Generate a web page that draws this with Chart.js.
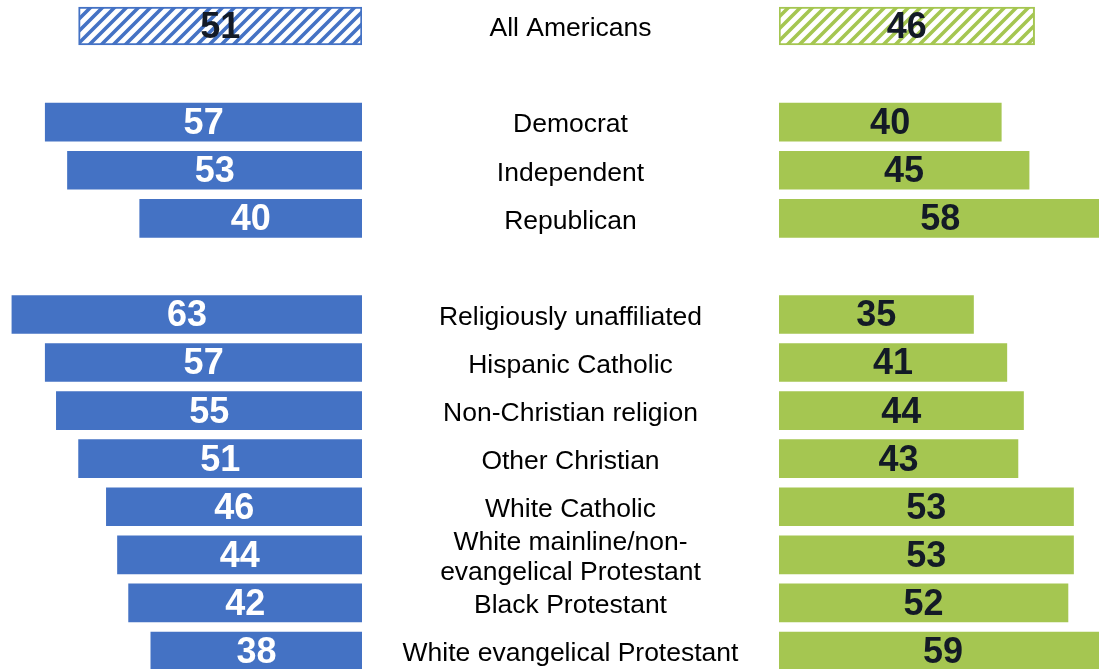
<!DOCTYPE html>
<html>
<head>
<meta charset="utf-8">
<script src="https://cdn.jsdelivr.net/npm/chart.js@4"></script>
<style>
  html, body { margin: 0; padding: 0; background: #fff; overflow: hidden; width: 1099px; height: 669px; }
  #wrapL { position: absolute; left: 0; top: 2px; width: 362px; height: 673px; }
  #wrapR { position: absolute; left: 362px; top: 2px; width: 737px; height: 673px; }
</style>
</head>
<body>
<div id="wrapL"><canvas id="left"></canvas></div>
<div id="wrapR"><canvas id="right"></canvas></div>
<script>
const categories = [
  'All Americans', '',
  'Democrat', 'Independent', 'Republican', '',
  'Religiously unaffiliated', 'Hispanic Catholic', 'Non-Christian religion',
  'Other Christian', 'White Catholic',
  ['White mainline/non-', 'evangelical Protestant'],
  'Black Protestant', 'White evangelical Protestant'
];
const leftValues  = [51, null, 57, 53, 40, null, 63, 57, 55, 51, 46, 44, 42, 38];
const rightValues = [46, null, 40, 45, 58, null, 35, 41, 44, 43, 53, 53, 52, 59];

const BLUE = '#4472C4';
const GREEN = '#A5C651';
const DARK = '#131a26';
const PX_PER_UNIT = 5.557;

function hatch(color) {
  const P = 12;
  const c = document.createElement('canvas');
  c.width = P; c.height = P;
  const g = c.getContext('2d');
  g.fillStyle = '#fff';
  g.fillRect(0, 0, P, P);
  g.strokeStyle = color;
  g.lineWidth = 3.6;
  g.beginPath();
  g.moveTo(-P, P); g.lineTo(P, -P);
  g.moveTo(-P / 2, P * 1.5); g.lineTo(P * 1.5, -P / 2);
  g.moveTo(0, 2 * P); g.lineTo(2 * P, 0);
  g.stroke();
  return g.createPattern(c, 'repeat');
}

const valueLabels = {
  id: 'valueLabels',
  afterDatasetsDraw(chart, args, opts) {
    const ctx = chart.ctx;
    const xs = chart.scales.x, ys = chart.scales.y;
    const vals = chart.data.datasets[0].data;
    ctx.save();
    ctx.font = 'bold 36px "Liberation Sans", Arial, sans-serif';
    ctx.textAlign = 'center';
    ctx.textBaseline = 'middle';
    vals.forEach((v, i) => {
      if (v == null) return;
      const x = xs.getPixelForValue(v / 2);
      const y = ys.getPixelForValue(i);
      ctx.fillStyle = opts.colors[i];
      ctx.fillText(String(v), x, y + 2);
    });
    ctx.restore();
  }
};

const middleLabels = {
  id: 'middleLabels',
  afterDraw(chart) {
    const ctx = chart.ctx;
    const ys = chart.scales.y;
    const cx = chart.chartArea.left / 2;
    ctx.save();
    ctx.font = '26.5px "Liberation Sans", Arial, sans-serif';
    ctx.textAlign = 'center';
    ctx.textBaseline = 'middle';
    ctx.fillStyle = '#000';
    categories.forEach((lab, i) => {
      const y = ys.getPixelForValue(i) + 3;
      if (Array.isArray(lab)) {
        const lh = 29.5;
        lab.forEach((line, k) => {
          ctx.fillText(line, cx, y + (k - (lab.length - 1) / 2) * lh);
        });
      } else if (lab) {
        ctx.fillText(lab, cx, y);
      }
    });
    ctx.restore();
  }
};

function makeChart(id, values, color, reverse, padLeft, width, labelColors, extraPlugins) {
  const bg = values.map((v, i) => i === 0 ? hatch(color) : color);
  const bw = values.map((v, i) => i === 0 ? 2 : 0);
  return new Chart(document.getElementById(id), {
    type: 'bar',
    data: {
      labels: categories,
      datasets: [{
        data: values,
        backgroundColor: bg,
        borderColor: color,
        borderWidth: bw,
        borderSkipped: false,
        barThickness: 38
      }]
    },
    options: {
      indexAxis: 'y',
      responsive: true,
      maintainAspectRatio: false,
      animation: false,
      layout: { padding: { left: padLeft, right: 0, top: 0, bottom: 0 } },
      scales: {
        x: {
          display: false,
          reverse: reverse,
          min: 0,
          max: width / PX_PER_UNIT
        },
        y: { display: false }
      },
      plugins: {
        legend: { display: false },
        tooltip: { enabled: false },
        valueLabels: { colors: labelColors }
      }
    },
    plugins: [valueLabels].concat(extraPlugins)
  });
}

const leftColors = leftValues.map((v, i) => i === 0 ? DARK : '#ffffff');
const rightColors = rightValues.map(() => DARK);

makeChart('left', leftValues, BLUE, true, 0, 362, leftColors, []);
makeChart('right', rightValues, GREEN, false, 417, 737 - 417, rightColors, [middleLabels]);
</script>
</body>
</html>
